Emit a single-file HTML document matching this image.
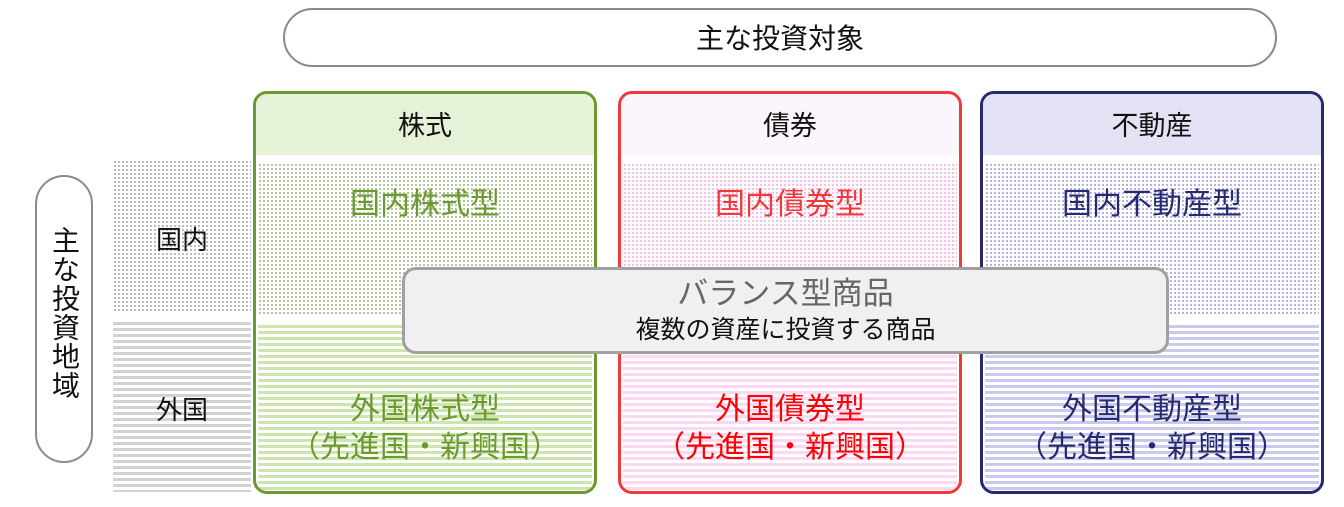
<!DOCTYPE html>
<html><head><meta charset="utf-8"><style>
body{margin:0;width:1344px;height:507px;background:#fff;position:relative;overflow:hidden;font-family:"Liberation Sans","Noto Sans CJK JP",sans-serif}
div{position:absolute;box-sizing:border-box}
.t{text-align:center;white-space:nowrap}
.dg{background-image:radial-gradient(circle,#b0b0b0 0.9px,transparent 1.2px);background-size:4px 4px}
.sg{background:repeating-linear-gradient(#d2d2d2 0 3px,#fff 3px 6px)}
.box{border:3px solid;border-radius:14px;top:91px;height:403px;width:344px;overflow:hidden}
.hd{left:0;right:0;top:0;height:61px;font-size:27px;line-height:64px;text-align:center;color:#111}
.dot{left:2px;right:2px;top:69px;height:153px}
.str{left:2px;right:2px;top:231px;height:168px}
.l1{left:0;right:0;top:89px;font-size:30px;line-height:44px;text-align:center}
.l2{left:0;right:0;top:297px;font-size:30px;line-height:38px;text-align:center;white-space:nowrap}
</style></head><body>
<div style="left:283px;top:8px;width:994px;height:59px;border:2px solid #8a8a8a;border-radius:30px;font-size:28px;line-height:58px;text-align:center;color:#111">主な投資対象</div>
<div style="left:35px;top:175px;width:58px;height:288px;border:2px solid #8a8a8a;border-radius:29px"></div>
<div style="left:44px;top:226px;width:40px;font-size:28px;line-height:40px;writing-mode:vertical-rl;letter-spacing:1px;color:#111">主な投資地域</div>
<div class="dg" style="left:113px;top:160px;width:138px;height:153px"></div>
<div class="sg" style="left:113px;top:322px;width:138px;height:170px"></div>
<div class="t" style="left:113px;top:221px;width:138px;font-size:26px;line-height:38px;color:#111">国内</div>
<div class="t" style="left:113px;top:391px;width:138px;font-size:26px;line-height:38px;color:#111">外国</div>

<div class="box" style="left:253px;border-color:#6a9a2e">
<div class="hd" style="background:#e6f2d8">株式</div>
<div class="dot" style="background-image:radial-gradient(circle,#a9bd95 0.9px,transparent 1.2px);background-size:4px 4px"></div>
<div class="str" style="background:repeating-linear-gradient(#cde6b0 0 3px,#fff 3px 6px)"></div>
<div class="l1" style="color:#6a9a2e">国内株式型</div>
<div class="l2" style="color:#6a9a2e">外国株式型<br>（先進国・新興国）</div>
</div>

<div class="box" style="left:618px;border-color:#f03a3a">
<div class="hd" style="background:#fdf5fc">債券</div>
<div class="dot" style="background-image:radial-gradient(circle,#f5b5e6 0.9px,transparent 1.2px);background-size:4px 4px"></div>
<div class="str" style="background:repeating-linear-gradient(#ffd8f4 0 3px,#fff 3px 6px)"></div>
<div class="l1" style="color:#f03a3a">国内債券型</div>
<div class="l2" style="color:#f00">外国債券型<br>（先進国・新興国）</div>
</div>

<div class="box" style="left:980px;border-color:#262a6e">
<div class="hd" style="background:#e3e3f5">不動産</div>
<div class="dot" style="background-image:radial-gradient(circle,#a8a8e0 0.9px,transparent 1.2px);background-size:4px 4px"></div>
<div class="str" style="background:repeating-linear-gradient(#cacaee 0 3px,#fff 3px 6px)"></div>
<div class="l1" style="color:#262a6e">国内不動産型</div>
<div class="l2" style="color:#262a6e">外国不動産型<br>（先進国・新興国）</div>
</div>

<div style="left:402px;top:267px;width:767px;height:87px;background:#f0f0f0;border:3px solid #a0a0a0;border-radius:14px"></div>
<div class="t" style="left:402px;top:271px;width:767px;font-size:31px;line-height:45px;color:#666">バランス型商品</div>
<div class="t" style="left:402px;top:312px;width:767px;font-size:25px;line-height:36px;color:#111">複数の資産に投資する商品</div>
</body></html>
